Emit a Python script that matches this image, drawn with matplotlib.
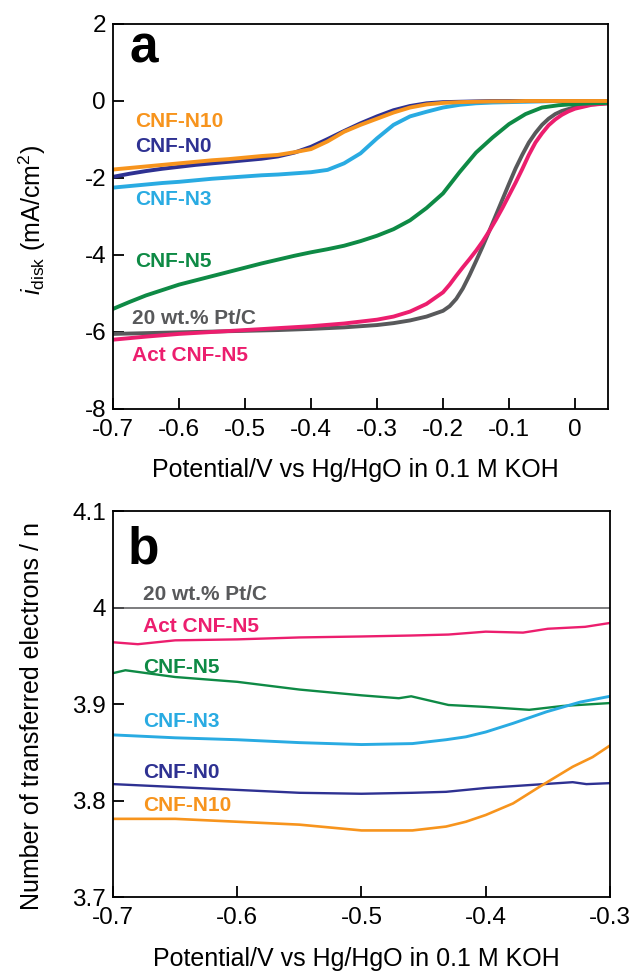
import numpy as np
import matplotlib
matplotlib.use("Agg")
import matplotlib.pyplot as plt

plt.rcParams['font.family'] = ['Liberation Sans', 'DejaVu Sans']
plt.rcParams['mathtext.fontset'] = 'custom'
plt.rcParams['mathtext.rm'] = 'Liberation Sans'
plt.rcParams['mathtext.it'] = 'Liberation Sans:italic'
plt.rcParams['axes.unicode_minus'] = False

# ---- panel a: LSV curves (disk current, mA/cm2) ----
pot_a = [-0.7, -0.675, -0.65, -0.625, -0.6, -0.575, -0.55, -0.525, -0.5, -0.475,
         -0.45, -0.425, -0.4, -0.375, -0.35, -0.325, -0.3, -0.275, -0.25, -0.225,
         -0.2, -0.175, -0.15, -0.125, -0.1, -0.075, -0.05, -0.025, 0.0, 0.025, 0.05]
i_n10 = [-1.78, -1.74, -1.70, -1.66, -1.62, -1.58, -1.54, -1.51, -1.47, -1.43,
         -1.40, -1.33, -1.25, -1.05, -0.80, -0.62, -0.46, -0.30, -0.17, -0.09,
         -0.05, -0.03, -0.02, -0.01, -0.01, 0.0, 0.0, 0.0, 0.0, 0.0, 0.0]
i_n0 = [-1.97, -1.89, -1.82, -1.76, -1.71, -1.66, -1.62, -1.58, -1.54, -1.50,
        -1.44, -1.34, -1.19, -0.99, -0.78, -0.58, -0.40, -0.24, -0.13, -0.06,
        -0.03, -0.02, -0.01, 0.0, 0.0, 0.0, 0.0, 0.0, 0.0, 0.0, 0.0]
i_n3 = [-2.25, -2.21, -2.17, -2.13, -2.10, -2.06, -2.02, -1.99, -1.96, -1.93,
        -1.91, -1.88, -1.85, -1.79, -1.62, -1.36, -0.97, -0.62, -0.40, -0.28,
        -0.17, -0.10, -0.06, -0.04, -0.03, -0.02, -0.01, 0.0, 0.0, 0.0, 0.0]
i_n5 = [-5.40, -5.22, -5.05, -4.91, -4.77, -4.66, -4.55, -4.44, -4.33, -4.22,
        -4.12, -4.02, -3.93, -3.85, -3.76, -3.64, -3.50, -3.33, -3.10, -2.78,
        -2.40, -1.85, -1.34, -0.95, -0.60, -0.34, -0.17, -0.11, -0.08, -0.06, -0.05]

pot_pt = [-0.7, -0.65, -0.6, -0.55, -0.5, -0.45, -0.4, -0.35, -0.3, -0.275, -0.25,
          -0.225, -0.2, -0.19, -0.18, -0.17, -0.16, -0.15, -0.14, -0.13, -0.12,
          -0.11, -0.1, -0.09, -0.08, -0.07, -0.06, -0.05, -0.04, -0.03, -0.02,
          -0.01, 0.0, 0.025, 0.05]
i_ptc = [-6.05, -6.03, -6.01, -5.99, -5.97, -5.95, -5.92, -5.88, -5.82, -5.77, -5.70,
         -5.60, -5.45, -5.33, -5.14, -4.87, -4.53, -4.16, -3.78, -3.38, -2.97,
         -2.56, -2.15, -1.75, -1.40, -1.08, -0.83, -0.62, -0.46, -0.34, -0.26,
         -0.21, -0.16, -0.09, -0.06]
i_act = [-6.20, -6.12, -6.05, -6.00, -5.95, -5.90, -5.85, -5.78, -5.68, -5.60, -5.47,
         -5.27, -4.97, -4.77, -4.54, -4.32, -4.11, -3.89, -3.65, -3.38, -3.09,
         -2.78, -2.45, -2.12, -1.77, -1.40, -1.08, -0.84, -0.63, -0.48, -0.36,
         -0.27, -0.20, -0.10, -0.06]

# ---- panel b: number of transferred electrons ----
pot_b_ptc = [-0.7, -0.6, -0.5, -0.4, -0.3]
n_ptc = [3.999, 3.999, 3.999, 3.999, 3.999]
pot_b_act = [-0.7, -0.68, -0.65, -0.6, -0.55, -0.5, -0.46, -0.43, -0.4, -0.37, -0.35, -0.32, -0.3]
n_act = [3.964, 3.962, 3.966, 3.967, 3.969, 3.970, 3.971, 3.972, 3.975, 3.974, 3.978, 3.980, 3.984]
pot_b_n5 = [-0.7, -0.69, -0.65, -0.6, -0.55, -0.5, -0.47, -0.46, -0.43, -0.4, -0.365, -0.338, -0.3]
n_n5 = [3.932, 3.935, 3.928, 3.923, 3.915, 3.909, 3.906, 3.908, 3.899, 3.897, 3.894, 3.898, 3.901]
pot_b_n3 = [-0.7, -0.65, -0.6, -0.55, -0.5, -0.459, -0.432, -0.416, -0.4, -0.378, -0.351, -0.324, -0.3]
n_n3 = [3.868, 3.865, 3.863, 3.860, 3.858, 3.859, 3.863, 3.866, 3.871, 3.880, 3.892, 3.902, 3.908]
pot_b_n0 = [-0.7, -0.65, -0.6, -0.55, -0.5, -0.459, -0.432, -0.4, -0.365, -0.33, -0.319, -0.3]
n_n0 = [3.817, 3.814, 3.811, 3.808, 3.807, 3.808, 3.809, 3.813, 3.816, 3.819, 3.817, 3.818]
pot_b_n10 = [-0.7, -0.65, -0.6, -0.55, -0.5, -0.459, -0.432, -0.416, -0.4, -0.378,
             -0.357, -0.33, -0.314, -0.3]
n_n10 = [3.781, 3.781, 3.778, 3.775, 3.769, 3.769, 3.773, 3.778, 3.785, 3.797,
         3.814, 3.835, 3.845, 3.857]

names = ['CNF-N10', 'CNF-N0', 'CNF-N3', 'CNF-N5', '20 wt.% Pt/C', 'Act CNF-N5']
colors = {'CNF-N10': '#F7941D', 'CNF-N0': '#2E3192', 'CNF-N3': '#29ABE2',
          'CNF-N5': '#0E8A45', '20 wt.% Pt/C': '#58595B', 'Act CNF-N5': '#EC1E6E'}

fig = plt.figure(figsize=(6.31, 9.71), dpi=100)
ax_a = fig.add_axes([0.1791, 0.5788, 0.7845, 0.3965])
ax_b = fig.add_axes([0.1791, 0.0762, 0.7876, 0.3975])

lw = 2.8
ax_a.plot(pot_pt, i_ptc, color=colors['20 wt.% Pt/C'], lw=lw)
ax_a.plot(pot_pt, i_act, color=colors['Act CNF-N5'], lw=lw)
ax_a.plot(pot_a, i_n5, color=colors['CNF-N5'], lw=lw)
ax_a.plot(pot_a, i_n3, color=colors['CNF-N3'], lw=lw)
ax_a.plot(pot_a, i_n0, color=colors['CNF-N0'], lw=lw)
ax_a.plot(pot_a, i_n10, color=colors['CNF-N10'], lw=lw)

ax_b.plot(pot_b_ptc, n_ptc, color=colors['20 wt.% Pt/C'], lw=1.1)
ax_b.plot(pot_b_act, n_act, color=colors['Act CNF-N5'], lw=1.7)
ax_b.plot(pot_b_n5, n_n5, color=colors['CNF-N5'], lw=1.7)
ax_b.plot(pot_b_n3, n_n3, color=colors['CNF-N3'], lw=2.1)
ax_b.plot(pot_b_n0, n_n0, color=colors['CNF-N0'], lw=1.7)
ax_b.plot(pot_b_n10, n_n10, color=colors['CNF-N10'], lw=1.9)

# curve labels
lab_a = {'CNF-N10': -0.52, 'CNF-N0': -1.19, 'CNF-N3': -2.57, 'CNF-N5': -4.18,
         '20 wt.% Pt/C': -5.64, 'Act CNF-N5': -6.6}
lab_a_x = {'CNF-N10': -0.667, 'CNF-N0': -0.667, 'CNF-N3': -0.667, 'CNF-N5': -0.667,
           '20 wt.% Pt/C': -0.671, 'Act CNF-N5': -0.671}
lab_b = {'20 wt.% Pt/C': 4.014, 'Act CNF-N5': 3.980, 'CNF-N5': 3.938, 'CNF-N3': 3.882,
         'CNF-N0': 3.829, 'CNF-N10': 3.795}
for n in names:
    ax_a.text(lab_a_x[n], lab_a[n], n, color=colors[n], fontsize=15, fontweight='bold',
              ha='left', va='center')
    ax_b.text(-0.676, lab_b[n], n, color=colors[n], fontsize=15, fontweight='bold',
              ha='left', va='center')

ax_a.text(0.034, 0.899, 'a', transform=ax_a.transAxes, fontsize=37, fontweight='bold',
          ha='left', va='baseline')
ax_b.text(0.030, 0.865, 'b', transform=ax_b.transAxes, fontsize=37, fontweight='bold',
          ha='left', va='baseline')

ax_a.set_xlim(-0.7, 0.05)
ax_a.set_ylim(-8, 2)
xt_a = [-0.7, -0.6, -0.5, -0.4, -0.3, -0.2, -0.1, 0.0]
ax_a.set_xticks(xt_a, ['-0.7', '-0.6', '-0.5', '-0.4', '-0.3', '-0.2', '-0.1', '0'])
ax_a.set_yticks([-8, -6, -4, -2, 0, 2], ['-8', '-6', '-4', '-2', '0', '2'])

ax_b.set_xlim(-0.7, -0.3)
ax_b.set_ylim(3.7, 4.1)
ax_b.set_xticks([-0.7, -0.6, -0.5, -0.4, -0.3], ['-0.7', '-0.6', '-0.5', '-0.4', '-0.3'])
ax_b.set_yticks([3.7, 3.8, 3.9, 4.0, 4.1], ['3.7', '3.8', '3.9', '4', '4.1'])

for ax in (ax_a, ax_b):
    for s in ax.spines.values():
        s.set_linewidth(1.3)
    ax.tick_params(axis='both', direction='in', length=8, width=1.3, labelsize=17.5)
    ax.tick_params(axis='x', pad=7)
    ax.tick_params(axis='y', pad=5)
    ax.set_xlabel('Potential/V vs Hg/HgO in 0.1 M KOH', fontsize=18)
    ax.xaxis.label.set_va('center')

ax_a.xaxis.set_label_coords(0.49, -0.158)
ax_b.xaxis.set_label_coords(0.49, -0.161)
ax_a.set_ylabel(r'$i_{\mathrm{disk}}$ (mA/cm$^2$)', fontsize=18)
ax_b.set_ylabel('Number of transferred electrons / n', fontsize=18)
ax_a.yaxis.label.set_va('center')
ax_b.yaxis.label.set_va('center')
ax_a.yaxis.set_label_coords(-0.164, 0.49)
ax_b.yaxis.set_label_coords(-0.163, 0.47)

fig.savefig('out.png', dpi=100)
